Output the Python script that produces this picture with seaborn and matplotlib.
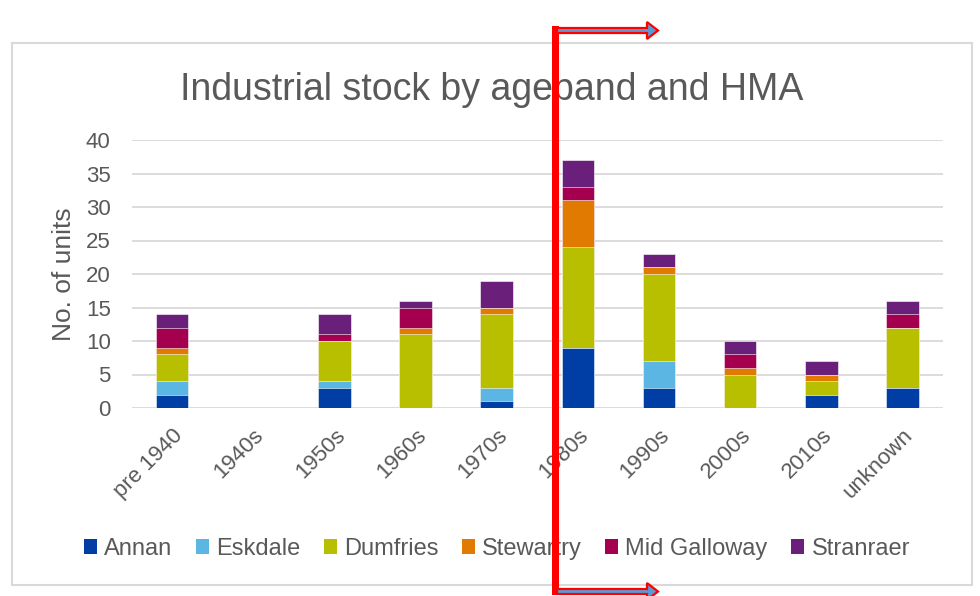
import numpy as np
import pandas as pd
import matplotlib
matplotlib.use("Agg")
import matplotlib.pyplot as plt
import seaborn as sns
from matplotlib.patches import Patch, Rectangle, FancyArrow

# ---- data ----
categories = ["pre 1940", "1940s", "1950s", "1960s", "1970s", "1980s",
              "1990s", "2000s", "2010s", "unknown"]
annan       = [2, 0, 3, 0, 1, 9, 3, 0, 2, 3]
eskdale     = [2, 0, 1, 0, 2, 0, 4, 0, 0, 0]
dumfries    = [4, 0, 6, 11, 11, 15, 13, 5, 2, 9]
stewartry   = [1, 0, 0, 1, 1, 7, 1, 1, 1, 0]
mid_gallow  = [3, 0, 1, 3, 0, 2, 0, 2, 0, 2]
stranraer   = [2, 0, 3, 1, 4, 4, 2, 2, 2, 2]

series_names = ["Annan", "Eskdale", "Dumfries", "Stewartry", "Mid Galloway", "Stranraer"]
series_vals = [annan, eskdale, dumfries, stewartry, mid_gallow, stranraer]
colors = ["#003DA5", "#5CB6E4", "#B8BF00", "#E07A00", "#A5004F", "#6A1F7A"]

text_col = "#595959"
grid_col = "#D9D9D9"

sns.set_theme(style="white")
plt.rcParams["font.family"] = ["Liberation Sans", "DejaVu Sans"]

fig = plt.figure(figsize=(9.8, 5.96), dpi=100)
ax = fig.add_axes([131.5 / 980, 1 - 408 / 596, (943 - 131.5) / 980, (408 - 140) / 596])

df = pd.DataFrame({n: v for n, v in zip(series_names, series_vals)})
df["cat"] = categories
cum = df[series_names].cumsum(axis=1)

# draw cumulative layers from top down
for name, col in reversed(list(zip(series_names, colors))):
    sns.barplot(x=df["cat"], y=cum[name], color=col, width=0.4, ax=ax,
                order=categories, saturation=1, edgecolor="white", linewidth=0.4,
                zorder=3)

ax.set_ylim(0, 40)
ax.set_xlim(-0.5, len(categories) - 0.5)
ax.set_yticks(range(0, 41, 5))
ax.yaxis.grid(True, color=grid_col, linewidth=1.3, zorder=0)
ax.set_axisbelow(True)
for s in ["top", "right", "left", "bottom"]:
    ax.spines[s].set_visible(False)
ax.tick_params(axis="both", length=0, colors=text_col, labelsize=16)
ax.tick_params(axis="y", pad=15)
ax.tick_params(axis="x", pad=12)
ax.set_xticks(range(len(categories)))
ax.set_xticklabels(categories, rotation=45, ha="right", rotation_mode="anchor")
ax.set_xlabel("")
ax.set_ylabel("No. of units", color=text_col, fontsize=19, labelpad=7)

fig.text(0.502, 1 - 90 / 596, "Industrial stock by ageband and HMA",
         ha="center", va="center", fontsize=27, color=text_col)

handles = [Patch(facecolor=c, edgecolor="none") for c in colors]
fig.legend(handles, series_names, loc="center", ncol=6,
           bbox_to_anchor=(0.507, 1 - 549 / 596), frameon=False,
           fontsize=17, handlelength=0.55, handleheight=0.6,
           handletextpad=0.3, columnspacing=1.0, labelcolor=text_col)

# outer chart border
fig.patches.append(Rectangle((12 / 980, 1 - 585 / 596), (972 - 12) / 980, (585 - 43) / 596,
                             transform=fig.transFigure, fill=False,
                             edgecolor=grid_col, linewidth=1.5, zorder=0))

# red annotation overlay in pixel coordinates
ov = fig.add_axes([0, 0, 1, 1], zorder=10)
ov.set_xlim(0, 980)
ov.set_ylim(596, 0)
ov.axis("off")
ov.patch.set_alpha(0)
ov.add_patch(Rectangle((552, 26), 6.5, 569, facecolor="#FF0000", edgecolor="none"))
for yy in (30.5, 591.5):
    ov.add_patch(FancyArrow(557, yy, 101, 0, width=5, head_width=17, head_length=11,
                            length_includes_head=True, facecolor="#5B9BD5",
                            edgecolor="#FF0000", linewidth=1.6))

fig.savefig("out.png", dpi=100)
